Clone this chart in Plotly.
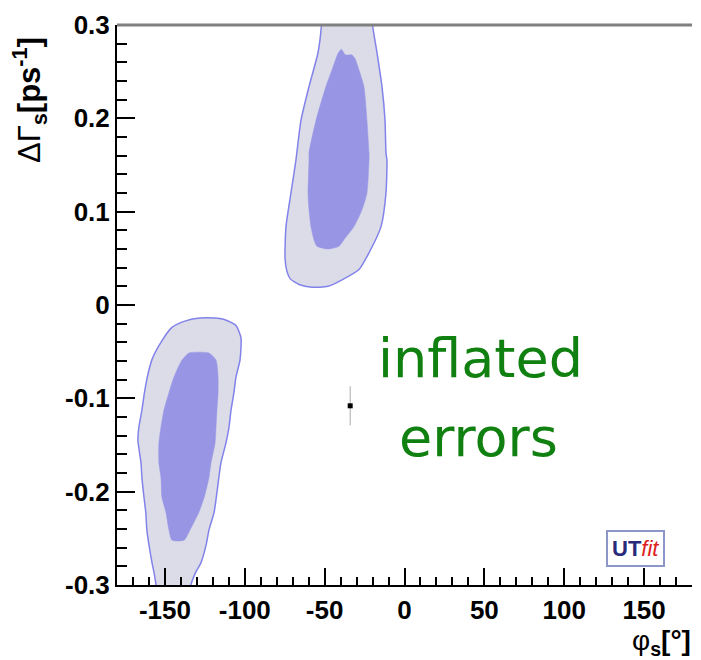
import plotly.graph_objects as go

# ---- data (phi_s in degrees, DeltaGamma_s in ps^-1) ----
upper_outer_x = [-51.7, -20.4, -20.0, -17.2, -14.1, -12.2, -11.6, -11.0, -11.6, -14.7, -22.2, -28.5,
                 -39.1, -48.0, -58.0, -66.0, -71.5, -73.6, -74.8, -74.2, -71.1, -68.0, -64.8, -59.8, -54.2, -52.0]
upper_outer_y = [0.320, 0.320, 0.300, 0.270, 0.234, 0.198, 0.163, 0.155, 0.120, 0.084, 0.056, 0.038,
                 0.027, 0.020, 0.019, 0.022, 0.028, 0.036, 0.050, 0.084, 0.120, 0.155, 0.198, 0.234, 0.270, 0.300]

upper_inner_x = [-41.5, -39.5, -37.0, -33.0, -31.0, -28.5, -25.4, -23.5, -22.2, -22.2, -23.5, -26.6,
                 -31.6, -37.9, -41.0, -48.0, -54.8, -56.7, -58.6, -59.8, -60.4, -59.8, -59.8, -55.4, -49.2, -45.4]
upper_inner_y = [0.270, 0.274, 0.268, 0.268, 0.264, 0.252, 0.234, 0.198, 0.163, 0.155, 0.120, 0.102,
                 0.084, 0.070, 0.063, 0.060, 0.063, 0.070, 0.084, 0.102, 0.120, 0.155, 0.163, 0.198, 0.234, 0.252]

lower_outer_x = [-137.0, -128.0, -119.0, -112.0, -105.5, -102.4, -103.0, -105.5, -106.8, -108.6, -109.9,
                 -111.8, -114.9, -119.2, -122.4, -124.2, -127.4, -130.6, -133.7, -134.5, -155.0, -155.6,
                 -156.9, -158.1, -160.0, -161.3, -162.0, -163.1, -164.4, -165.0, -166.9, -166.3, -164.4,
                 -163.0, -161.0, -158.0, -152.5, -145.6]
lower_outer_y = [-0.017, -0.014, -0.014, -0.016, -0.022, -0.035, -0.059, -0.077, -0.094, -0.1125, -0.131,
                 -0.148, -0.169, -0.222, -0.241, -0.257, -0.276, -0.286, -0.300, -0.320, -0.320, -0.300,
                 -0.286, -0.276, -0.257, -0.241, -0.222, -0.206, -0.185, -0.169, -0.145, -0.131, -0.1125,
                 -0.096, -0.077, -0.058, -0.040, -0.024]

lower_inner_x = [-135.0, -129.0, -122.4, -118.0, -116.7, -116.7, -117.4, -118.0, -118.6, -121.1, -122.4,
                 -125.4, -128.7, -134.3, -138.0, -145.6, -147.5, -149.4, -151.9, -152.5, -153.8, -153.8,
                 -152.5, -150.6, -147.5, -144.3, -139.3]
lower_inner_y = [-0.0514, -0.0505, -0.0514, -0.059, -0.077, -0.094, -0.1125, -0.131, -0.148, -0.169, -0.185,
                 -0.206, -0.222, -0.241, -0.252, -0.252, -0.241, -0.222, -0.206, -0.185, -0.169, -0.148,
                 -0.131, -0.1125, -0.094, -0.077, -0.059]

point_x = [-34.0]
point_y = [-0.108]
point_err = [0.021]

x_tickvals = [-150, -100, -50, 0, 50, 100, 150]
x_ticktext = ["-150", "-100", "-50", "0", "50", "100", "150"]
y_tickvals = [-0.3, -0.2, -0.1, 0, 0.1, 0.2, 0.3]
y_ticktext = ["-0.3", "-0.2", "-0.1", "0", "0.1", "0.2", "0.3"]

OUTER_FILL = "rgb(220,220,232)"
OUTER_LINE = "rgb(130,130,235)"
INNER_FILL = "rgb(152,150,228)"

fig = go.Figure()
for xs, ys in [(upper_outer_x, upper_outer_y), (lower_outer_x, lower_outer_y)]:
    fig.add_trace(go.Scatter(x=xs + xs[:1], y=ys + ys[:1], mode="lines", fill="toself",
                             fillcolor=OUTER_FILL, line=dict(color=OUTER_LINE, width=1.5, shape="spline", smoothing=0.6),
                             hoverinfo="skip"))
for xs, ys in [(upper_inner_x, upper_inner_y), (lower_inner_x, lower_inner_y)]:
    fig.add_trace(go.Scatter(x=xs + xs[:1], y=ys + ys[:1], mode="lines", fill="toself",
                             fillcolor=INNER_FILL, line=dict(color=INNER_FILL, width=0.5, shape="spline", smoothing=0.6),
                             hoverinfo="skip"))
fig.add_trace(go.Scatter(x=point_x, y=point_y, mode="markers",
                         marker=dict(symbol="square", size=5, color="black"),
                         error_y=dict(type="data", array=point_err, color="rgb(170,170,170)",
                                      thickness=1, width=0)))

tickfont = dict(family="Liberation Sans, Arial", size=26, color="black", weight="bold")
fig.update_xaxes(range=[-180, 180], tickvals=x_tickvals, ticktext=x_ticktext,
                 ticks="inside", ticklen=17, tickwidth=2, tickcolor="black",
                 minor=dict(dtick=10, tick0=0, ticks="inside", ticklen=8, tickwidth=2, tickcolor="black"),
                 showline=True, linecolor="black", linewidth=2, showgrid=False, zeroline=False,
                 tickfont=tickfont, ticklabelstandoff=1)
fig.update_yaxes(range=[-0.3, 0.3], tickvals=y_tickvals, ticktext=y_ticktext,
                 ticks="inside", ticklen=18, tickwidth=2, tickcolor="black",
                 minor=dict(dtick=0.02, tick0=0, ticks="inside", ticklen=10, tickwidth=2, tickcolor="black"),
                 showline=True, linecolor="black", linewidth=2, showgrid=False, zeroline=False,
                 tickfont=tickfont, ticklabelstandoff=0)

fig.add_shape(type="line", xref="paper", yref="paper", x0=0, x1=1, y0=1, y1=1,
              line=dict(color="rgb(128,128,128)", width=3), layer="above")

W, H = 701, 660
L, R, T, B = 117, 9, 25, 75
pw, ph = W - L - R, H - T - B

def px(x):
    return (x - L) / pw

def py(y):
    return (H - B - y) / ph

fig.add_annotation(xref="paper", yref="paper", x=px(30), y=py(100), textangle=-90,
                   text="ΔΓ<sub><b>s</b></sub><b>[ps<sup>-1</sup>]</b>", showarrow=False,
                   font=dict(family="Liberation Sans, Arial", size=31, color="black"),
                   xanchor="center", yanchor="middle")
fig.add_annotation(xref="paper", yref="paper", x=px(693), y=py(642),
                   text="φ<sub><b>s</b></sub><b>[°]</b>", showarrow=False,
                   font=dict(family="Liberation Sans, Arial", size=28, color="black"),
                   xanchor="right", yanchor="middle")

green = "rgb(16,128,16)"
fig.add_annotation(xref="paper", yref="paper", x=px(480), y=py(358), text="inflated",
                   showarrow=False, font=dict(family="DejaVu Sans", size=54, color=green),
                   xanchor="center", yanchor="middle")
fig.add_annotation(xref="paper", yref="paper", x=px(478), y=py(437), text="errors",
                   showarrow=False, font=dict(family="DejaVu Sans", size=54, color=green),
                   xanchor="center", yanchor="middle")

fig.add_annotation(xref="paper", yref="paper", x=px(635.5), y=py(548),
                   text="<b><span style='color:#2a2a7a'>UT</span></b><i><span style='color:#dd2020'>fit</span></i>",
                   showarrow=False, font=dict(family="Liberation Sans, Arial", size=22),
                   bgcolor="white", bordercolor="rgb(140,150,200)", borderwidth=2, borderpad=4,
                   xanchor="center", yanchor="middle")

fig.update_layout(width=W, height=H, margin=dict(l=L, r=R, t=T, b=B),
                  plot_bgcolor="white", paper_bgcolor="white", showlegend=False)
fig.write_html("out.html")
